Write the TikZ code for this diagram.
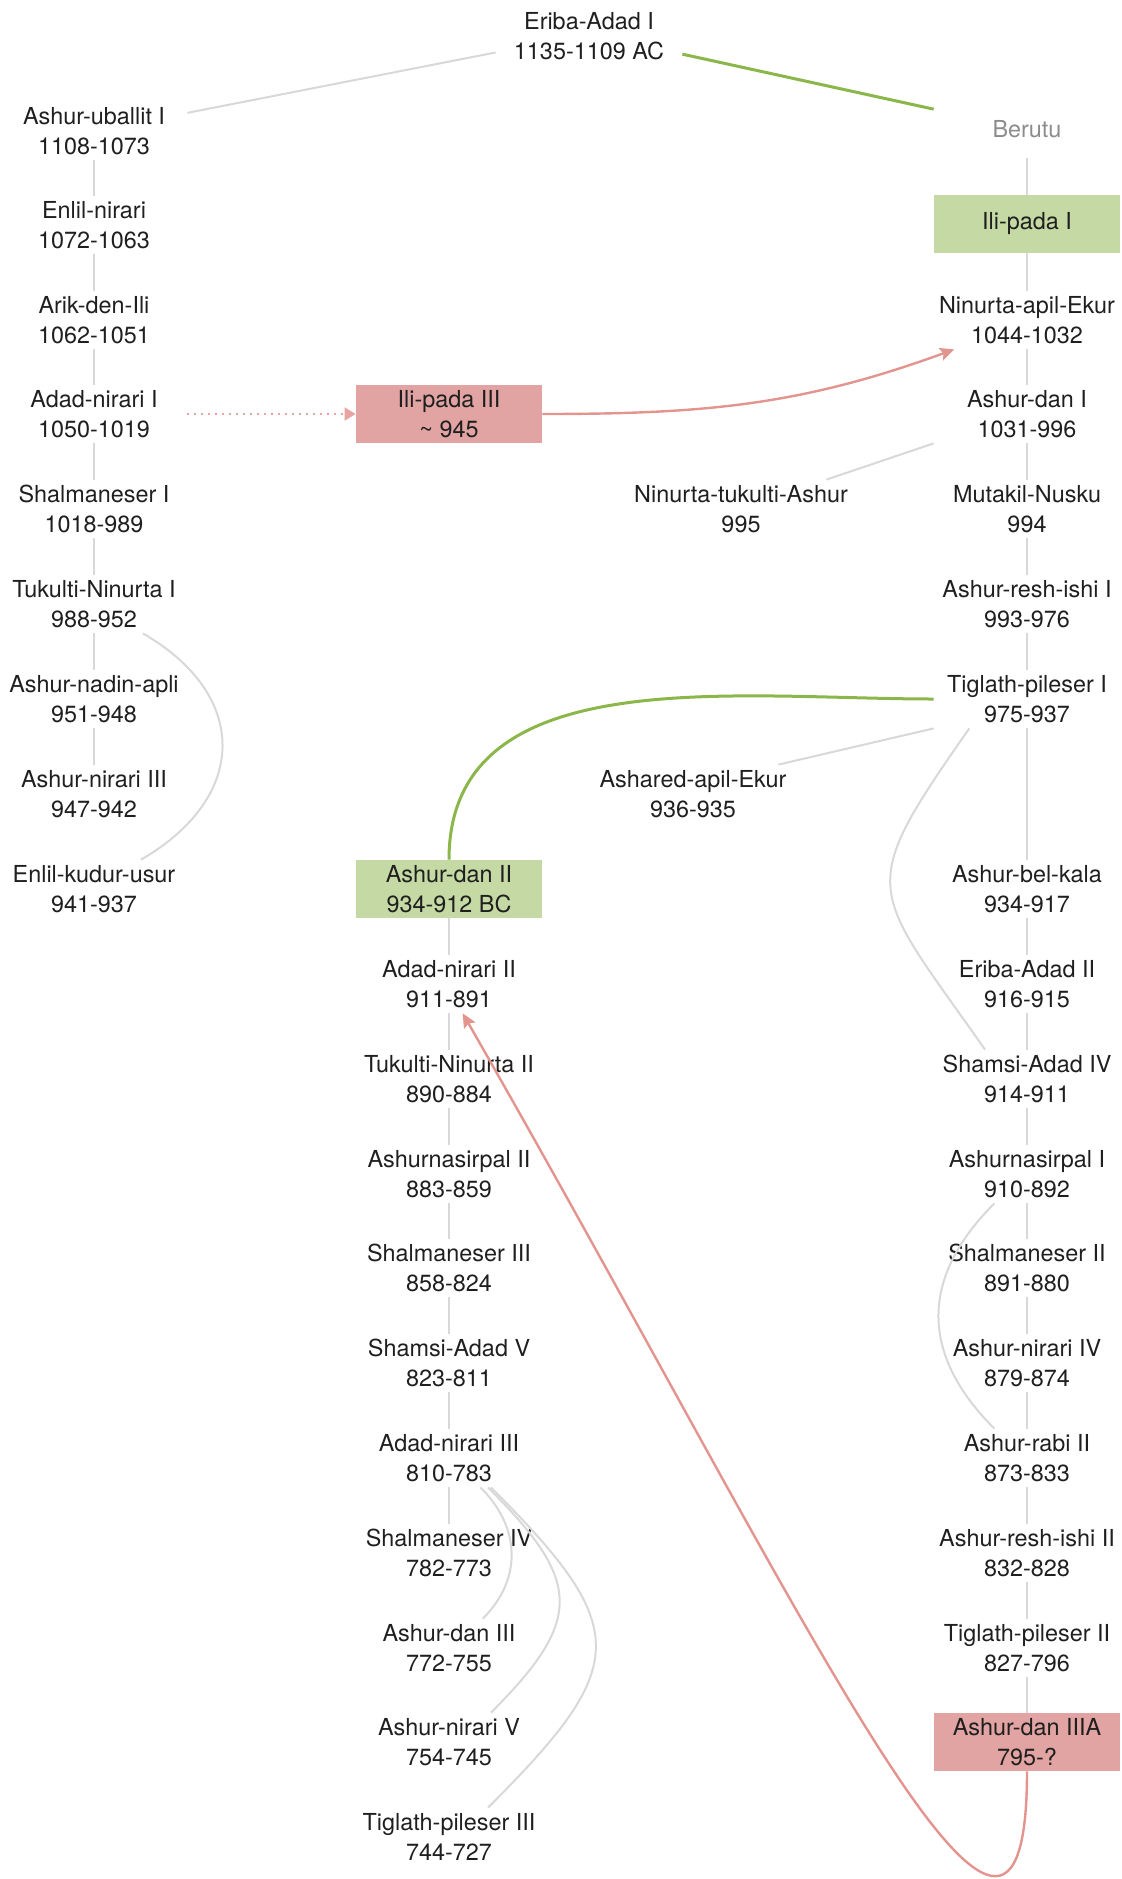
\documentclass[tikz,border=0pt]{standalone}
\usepackage{fontspec}
\setmainfont{TeX Gyre Heros}
\usetikzlibrary{arrows.meta}

\definecolor{lineGray}{HTML}{D8D8D8}
\definecolor{leafGreen}{HTML}{C5D9A4}
\definecolor{stemGreen}{HTML}{8BB64A}
\definecolor{roseFill}{HTML}{E2A3A3}
\definecolor{roseLine}{HTML}{E3948F}
\definecolor{textGray}{HTML}{8C8C8C}

\tikzset{
  king/.style={align=center, inner sep=2pt, minimum width=93pt, minimum height=29pt,
    text=black!88, font=\fontsize{11.7}{15}\selectfont},
  greenbox/.style={king, fill=leafGreen},
  redbox/.style={king, fill=roseFill},
  vline/.style={draw=lineGray, line width=1pt},
  greenline/.style={draw=stemGreen, line width=1.5pt},
  redline/.style={draw=roseLine, line width=1.2pt, -{Stealth[length=7pt,width=6.5pt,inset=1.2pt]}},
  dotarrow/.style={draw=roseLine!85, line width=1pt, dash pattern=on 1pt off 2.5pt,
    -{Triangle[length=5.5pt,width=6.5pt]}}
}

\begin{document}
\begin{tikzpicture}[x=0.5pt,y=0.5pt]
\useasboundingbox (0,0) rectangle (1121,-1879);

% Nodes
\node[king] (eriba) at (589,-36) {Eriba-Adad I\\1135-1109 AC};

% left line
\node[king] (uballit) at (94,-131) {Ashur-uballit I\\1108-1073};
\node[king] (enlil) at (94,-225) {Enlil-nirari\\1072-1063};
\node[king] (arik) at (94,-320) {Arik-den-Ili\\1062-1051};
\node[king] (adadn1) at (94,-414) {Adad-nirari I\\1050-1019};
\node[king] (shal1) at (94,-509) {Shalmaneser I\\1018-989};
\node[king] (tuk1) at (94,-604) {Tukulti-Ninurta I\\988-952};
\node[king] (nadin) at (94,-699) {Ashur-nadin-apli\\951-948};
\node[king] (anir3) at (94,-794) {Ashur-nirari III\\947-942};
\node[king] (ekud) at (94,-889) {Enlil-kudur-usur\\941-937};

% right line
\node[king, text=textGray] (berutu) at (1027,-129) {Berutu};
\node[greenbox] (ilipada1) at (1027,-224) {Ili-pada I};
\node[king] (ninapil) at (1027,-320) {Ninurta-apil-Ekur\\1044-1032};
\node[king] (ashdan1) at (1027,-414) {Ashur-dan I\\1031-996};
\node[king] (mutakil) at (1027,-509) {Mutakil-Nusku\\994};
\node[king] (reshi1) at (1027,-604) {Ashur-resh-ishi I\\993-976};
\node[king] (tig1) at (1027,-699) {Tiglath-pileser I\\975-937};
\node[king] (belkala) at (1027,-889) {Ashur-bel-kala\\934-917};
\node[king] (eriba2) at (1027,-984) {Eriba-Adad II\\916-915};
\node[king] (shamsi4) at (1027,-1079) {Shamsi-Adad IV\\914-911};
\node[king] (ashnas1) at (1027,-1174) {Ashurnasirpal I\\910-892};
\node[king] (shal2) at (1027,-1268) {Shalmaneser II\\891-880};
\node[king] (anir4) at (1027,-1363) {Ashur-nirari IV\\879-874};
\node[king] (rabi2) at (1027,-1458) {Ashur-rabi II\\873-833};
\node[king] (reshi2) at (1027,-1553) {Ashur-resh-ishi II\\832-828};
\node[king] (tig2) at (1027,-1648) {Tiglath-pileser II\\827-796};
\node[redbox] (dan3a) at (1027,-1742) {Ashur-dan IIIA\\795-?};

% middle line
\node[redbox] (ilipada3) at (449,-414) {Ili-pada III\\\textasciitilde{} 945};
\node[king] (nintuk) at (741,-509) {Ninurta-tukulti-Ashur\\995};
\node[king] (ashared) at (693,-794) {Ashared-apil-Ekur\\936-935};
\node[greenbox] (ashdan2) at (449,-889) {Ashur-dan II\\934-912 BC};
\node[king] (adn2) at (449,-984) {Adad-nirari II\\911-891};
\node[king] (tuk2) at (449,-1079) {Tukulti-Ninurta II\\890-884};
\node[king] (ashnas2) at (449,-1174) {Ashurnasirpal II\\883-859};
\node[king] (shal3) at (449,-1268) {Shalmaneser III\\858-824};
\node[king] (shamsi5) at (449,-1363) {Shamsi-Adad V\\823-811};
\node[king] (adn3) at (449,-1458) {Adad-nirari III\\810-783};
\node[king] (shal4) at (449,-1553) {Shalmaneser IV\\782-773};
\node[king] (ashdan3) at (449,-1648) {Ashur-dan III\\772-755};
\node[king] (anir5) at (449,-1742) {Ashur-nirari V\\754-745};
\node[king] (tig3) at (449,-1837) {Tiglath-pileser III\\744-727};

% Succession lines
\draw[vline] (uballit) -- (enlil) (enlil) -- (arik) (arik) -- (adadn1) (adadn1) -- (shal1)
  (shal1) -- (tuk1) (tuk1) -- (nadin) (nadin) -- (anir3);
\draw[vline] (berutu) -- (ilipada1) (ilipada1) -- (ninapil) (ninapil) -- (ashdan1)
  (ashdan1) -- (mutakil) (mutakil) -- (reshi1) (reshi1) -- (tig1) (tig1) -- (belkala)
  (belkala) -- (eriba2) (eriba2) -- (shamsi4) (shamsi4) -- (ashnas1) (ashnas1) -- (shal2)
  (shal2) -- (anir4) (anir4) -- (rabi2) (rabi2) -- (reshi2) (reshi2) -- (tig2) (tig2) -- (dan3a);
\draw[vline] (ashdan2) -- (adn2) (adn2) -- (tuk2) (tuk2) -- (ashnas2) (ashnas2) -- (shal3)
  (shal3) -- (shamsi5) (shamsi5) -- (adn3) (adn3) -- (shal4);

% Side branches
\draw[vline] (eriba.190) -- (uballit.11);
\draw[greenline] (eriba.-11) -- (berutu.168);
\draw[vline] (ashdan1.south west) -- (nintuk.19);
\draw[vline] (tig1.south west) -- (ashared.19);
\draw[vline] (tuk1.-31) to[out=-30,in=30,looseness=1.4] (ekud.32);
\draw[vline] (tig1.207) to[out=235,in=125,looseness=1.6] (shamsi4.145);
\draw[vline] (ashnas1.222) to[out=225,in=135,looseness=1.2] (rabi2.138);
\draw[vline] (adn3.-43) to[out=-45,in=45,looseness=1.1] (ashdan3.41);
\draw[vline] (adn3.-37) to[out=-45,in=45,looseness=1.5] (anir5.35);
\draw[vline] (adn3.-35) to[out=-45,in=45,looseness=1.6] (tig3.37);
\draw[greenline] (tig1.west) to[out=180,in=90] (ashdan2.north);

% Arrows
\draw[dotarrow] (adadn1) -- (ilipada3);
\draw[redline] (ilipada3.east) to[out=0,in=200] (ninapil.202);
\draw[redline] (dan3a.south) .. controls +(0,-329) and +(337,-587) .. (adn2.-65);
\end{tikzpicture}
\end{document}
